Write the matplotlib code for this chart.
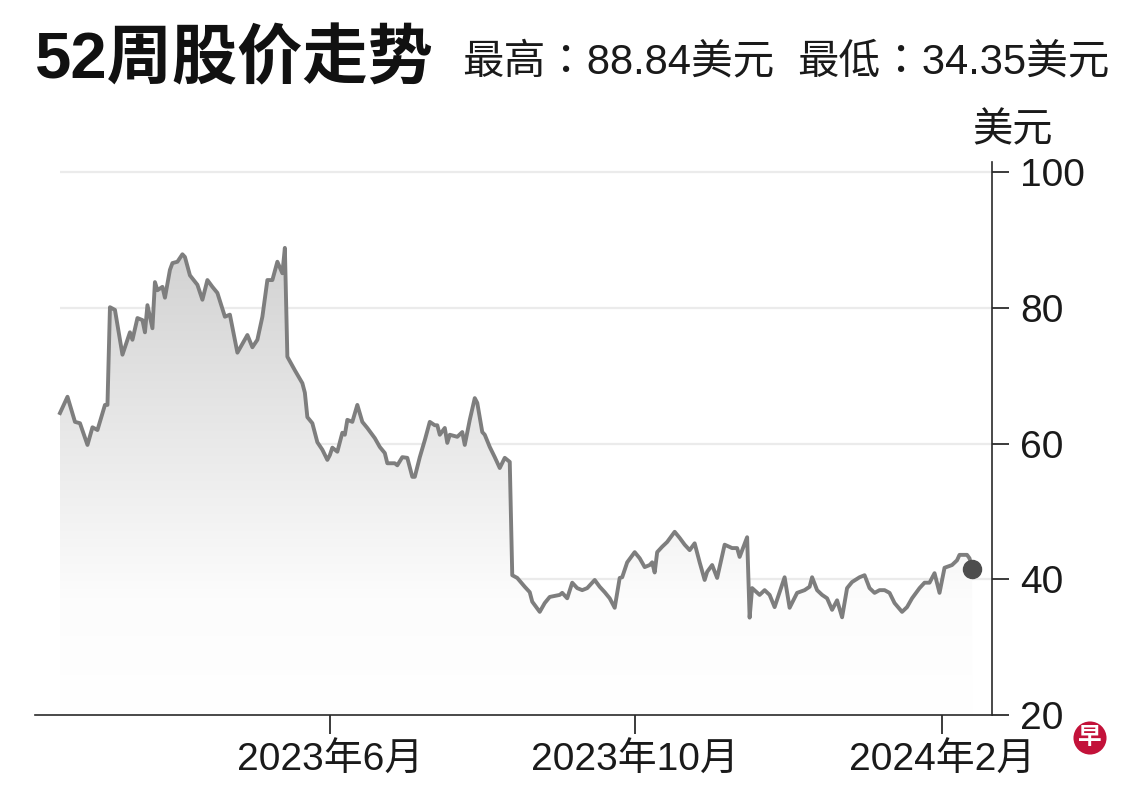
import numpy as np
import pandas as pd
import matplotlib
matplotlib.use('Agg')
import matplotlib.pyplot as plt
import matplotlib.dates as mdates
from matplotlib.colors import LinearSegmentedColormap

plt.rcParams['font.family'] = ['Liberation Sans', 'Noto Sans CJK SC', 'DejaVu Sans']

# 52-week closing prices (USD)
date_strs = [
    '2023-02-13', '2023-02-16', '2023-02-19', '2023-02-21', '2023-02-24', '2023-02-26',
    '2023-02-28', '2023-03-03', '2023-03-04', '2023-03-05', '2023-03-07', '2023-03-10',
    '2023-03-13', '2023-03-14', '2023-03-16', '2023-03-18', '2023-03-19', '2023-03-20',
    '2023-03-22', '2023-03-23', '2023-03-24', '2023-03-26', '2023-03-27', '2023-03-29',
    '2023-03-30', '2023-04-01', '2023-04-03', '2023-04-04', '2023-04-06', '2023-04-09',
    '2023-04-11', '2023-04-13', '2023-04-15', '2023-04-17', '2023-04-20', '2023-04-22',
    '2023-04-25', '2023-04-29', '2023-05-01', '2023-05-03', '2023-05-05', '2023-05-07',
    '2023-05-09', '2023-05-11', '2023-05-13', '2023-05-14', '2023-05-15', '2023-05-18',
    '2023-05-21', '2023-05-22', '2023-05-23', '2023-05-25', '2023-05-27', '2023-05-29',
    '2023-05-31', '2023-06-01', '2023-06-02', '2023-06-04', '2023-06-06', '2023-06-07',
    '2023-06-08', '2023-06-10', '2023-06-12', '2023-06-14', '2023-06-16', '2023-06-19',
    '2023-06-21', '2023-06-23', '2023-06-24', '2023-06-27', '2023-06-28', '2023-06-30',
    '2023-07-02', '2023-07-04', '2023-07-05', '2023-07-07', '2023-07-09', '2023-07-11',
    '2023-07-13', '2023-07-14', '2023-07-15', '2023-07-17', '2023-07-18', '2023-07-19',
    '2023-07-22', '2023-07-24', '2023-07-25', '2023-07-27', '2023-07-29', '2023-07-30',
    '2023-08-01', '2023-08-02', '2023-08-04', '2023-08-06', '2023-08-08', '2023-08-10',
    '2023-08-12', '2023-08-13', '2023-08-15', '2023-08-18', '2023-08-20', '2023-08-21',
    '2023-08-24', '2023-08-26', '2023-08-28', '2023-09-01', '2023-09-02', '2023-09-04',
    '2023-09-06', '2023-09-08', '2023-09-10', '2023-09-12', '2023-09-15', '2023-09-17',
    '2023-09-19', '2023-09-21', '2023-09-23', '2023-09-25', '2023-09-26', '2023-09-28',
    '2023-10-01', '2023-10-03', '2023-10-05', '2023-10-07', '2023-10-08', '2023-10-09',
    '2023-10-10', '2023-10-12', '2023-10-14', '2023-10-17', '2023-10-19', '2023-10-21',
    '2023-10-23', '2023-10-25', '2023-10-27', '2023-10-29', '2023-10-30', '2023-11-01',
    '2023-11-03', '2023-11-06', '2023-11-09', '2023-11-11', '2023-11-12', '2023-11-15',
    '2023-11-16', '2023-11-17', '2023-11-20', '2023-11-22', '2023-11-24', '2023-11-26',
    '2023-11-30', '2023-12-02', '2023-12-05', '2023-12-08', '2023-12-10', '2023-12-11',
    '2023-12-13', '2023-12-15', '2023-12-17', '2023-12-19', '2023-12-21', '2023-12-23',
    '2023-12-25', '2023-12-27', '2023-12-30', '2024-01-01', '2024-01-03', '2024-01-05',
    '2024-01-07', '2024-01-09', '2024-01-11', '2024-01-13', '2024-01-16', '2024-01-18',
    '2024-01-20', '2024-01-23', '2024-01-25', '2024-01-27', '2024-01-29', '2024-01-31',
    '2024-02-02', '2024-02-05', '2024-02-07', '2024-02-08', '2024-02-11', '2024-02-12',
    '2024-02-13',
]
prices = [
    64.5, 66.9, 63.2, 63.0, 59.8, 62.4,
    62.0, 65.7, 65.7, 80.1, 79.7, 73.1,
    76.4, 75.3, 78.5, 78.2, 76.4, 80.4,
    77.0, 83.8, 82.6, 83.1, 81.5, 85.6,
    86.6, 86.8, 87.9, 87.5, 84.8, 83.4,
    81.2, 84.1, 83.1, 82.2, 78.7, 79.0,
    73.4, 76.0, 74.2, 75.3, 78.7, 84.1,
    84.1, 86.8, 85.1, 88.84, 72.8, 70.8,
    68.9, 67.5, 63.9, 63.0, 60.2, 59.1,
    57.6, 58.3, 59.4, 58.8, 61.6, 61.3,
    63.5, 63.2, 65.7, 63.2, 62.3, 60.8,
    59.5, 58.6, 57.1, 57.1, 56.8, 58.0,
    57.9, 55.1, 55.1, 58.0, 60.5, 63.2,
    62.7, 62.7, 61.3, 62.3, 60.1, 61.3,
    61.0, 61.7, 59.8, 63.5, 66.7, 66.0,
    61.7, 61.3, 59.5, 58.0, 56.4, 57.9,
    57.3, 40.6, 40.2, 38.9, 38.1, 36.7,
    35.2, 36.5, 37.4, 37.7, 38.0, 37.2,
    39.5, 38.7, 38.4, 38.7, 39.9, 38.9,
    38.1, 37.2, 35.8, 40.2, 40.3, 42.5,
    44.0, 43.1, 41.8, 42.1, 42.5, 41.0,
    44.0, 44.8, 45.5, 47.0, 46.1, 45.1,
    44.3, 45.3, 42.5, 39.9, 41.1, 42.1,
    40.2, 45.1, 44.6, 44.6, 43.3, 46.2,
    34.35, 38.7, 37.7, 38.4, 37.7, 35.9,
    40.3, 35.8, 38.0, 38.4, 38.9, 40.3,
    38.4, 37.7, 37.2, 35.5, 36.9, 34.4,
    38.7, 39.6, 40.3, 40.6, 38.7, 38.0,
    38.4, 38.4, 38.0, 36.5, 35.2, 35.9,
    37.2, 38.7, 39.5, 39.5, 40.9, 38.0,
    41.7, 42.1, 42.8, 43.6, 43.6, 43.1,
    41.5,
]

tick_dates = ['2023-06-01', '2023-10-01', '2024-02-01']
tick_labels = ['2023年6月', '2023年10月', '2024年2月']
y_ticks = [20, 40, 60, 80, 100]

title = '52周股价走势'
high_text = '最高：88.84美元'
low_text = '最低：34.35美元'
unit = '美元'

dates = pd.to_datetime(date_strs)
x = mdates.date2num(dates)
y = np.array(prices)

W, H = 1140, 789
fig = plt.figure(figsize=(W / 100, H / 100), dpi=100)
ax = fig.add_axes([35 / W, 74 / H, (992 - 35) / W, (715 - 162) / H])

x_left = mdates.date2num(pd.Timestamp('2023-02-03'))
x_right = mdates.date2num(pd.Timestamp('2024-02-21'))
ax.set_xlim(x_left, x_right)
ax.set_ylim(20, 101.5)

# faint gridlines
ax.hlines(y_ticks[1:], x[0], x_right, color='#ebebeb', lw=1.6, zorder=0)

# gradient fill under the line (grey at the top, fading to white)
poly = ax.fill_between(x, y, 20, facecolor='none', lw=0)
cmap = LinearSegmentedColormap.from_list(
    'fade', [(0, '#ffffff'), (0.25, '#fcfcfc'), (1, '#d2d2d2')])
grad = np.linspace(0, 1, 256).reshape(-1, 1)
im = ax.imshow(grad, cmap=cmap, origin='lower', aspect='auto',
               extent=[x[0], x[-1], 20, y.max()], zorder=1)
im.set_clip_path(poly.get_paths()[0], transform=ax.transData)

ax.plot(x, y, color='#7e7e7e', lw=2.8, zorder=3)
ax.plot(x[-1], y[-1], 'o', ms=13, color='#4d4d4d', zorder=4)

# axes styling
for s in ['top', 'left']:
    ax.spines[s].set_visible(False)
for s in ['right', 'bottom']:
    ax.spines[s].set_color('#2a2a2a')
    ax.spines[s].set_linewidth(1.2)

ax.yaxis.tick_right()
ax.set_yticks(y_ticks)
ax.set_yticklabels([str(v) for v in y_ticks])
ax.tick_params(axis='y', direction='out', length=12, width=1.2, pad=8,
               labelsize=28, colors='#1a1a1a')

ax.set_xticks(mdates.date2num(pd.to_datetime(tick_dates)))
ax.set_xticklabels(tick_labels)
ax.tick_params(axis='x', direction='out', length=14, width=1.2, pad=6,
               labelsize=28, colors='#1a1a1a')

# header texts
fig.text(35 / W, 1 - 60 / H, title, fontsize=47, fontweight='bold',
         va='center', ha='left', color='#111111')
fig.text(462 / W, 1 - 62 / H, high_text, fontsize=30, va='center', ha='left',
         color='#1a1a1a', family=['Liberation Sans', 'Noto Sans CJK TC'])
fig.text(1110 / W, 1 - 62 / H, low_text, fontsize=30, va='center', ha='right',
         color='#1a1a1a', family=['Liberation Sans', 'Noto Sans CJK TC'])
fig.text(972 / W, 1 - 130 / H, unit, fontsize=29, va='center', ha='left', color='#1a1a1a')

# small logo
fig.text(1090 / W, 1 - 738 / H, '早', fontsize=17, fontweight='bold', color='white',
         ha='center', va='center',
         bbox=dict(boxstyle='circle,pad=0.2', fc='#c3123a', ec='none'))

fig.savefig('out.png', dpi=100)
